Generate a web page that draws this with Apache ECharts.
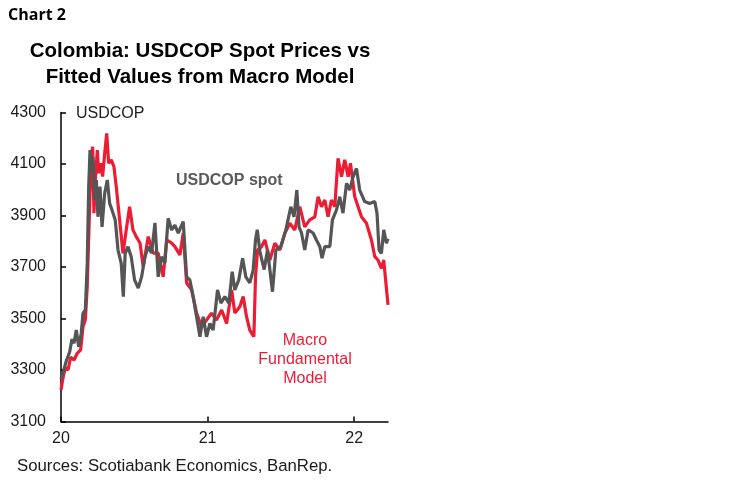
<!DOCTYPE html>
<html>
<head>
<meta charset="utf-8">
<script src="https://cdn.jsdelivr.net/npm/echarts@6/dist/echarts.min.js"></script>
<style>
  body { margin: 0; background: #fff; }
  #chart { width: 750px; height: 483px; }
</style>
</head>
<body>
<div id="chart"></div>
<script>
// x values are years as 20.xx (2020 = 20)
var spotX = [20.000, 20.014, 20.036, 20.059, 20.075, 20.089, 20.104, 20.121, 20.138, 20.150,
  20.166, 20.179, 20.189, 20.198, 20.207, 20.218, 20.230, 20.241, 20.252, 20.266,
  20.280, 20.298, 20.316, 20.332, 20.348, 20.370, 20.389, 20.411, 20.425, 20.438,
  20.457, 20.479, 20.502, 20.527, 20.550, 20.573, 20.595, 20.618, 20.641, 20.663,
  20.686, 20.709, 20.731, 20.755, 20.777, 20.800, 20.834, 20.857, 20.879, 20.902,
  20.925, 20.948, 20.970, 20.993, 21.016, 21.038, 21.068, 21.091, 21.118, 21.145,
  21.168, 21.186, 21.213, 21.239, 21.261, 21.288, 21.311, 21.327, 21.339, 21.357,
  21.386, 21.409, 21.443, 21.466, 21.500, 21.534, 21.568, 21.590, 21.609, 21.624,
  21.641, 21.663, 21.686, 21.720, 21.743, 21.766, 21.781, 21.800, 21.834, 21.852,
  21.879, 21.902, 21.924, 21.948, 21.970, 21.993, 22.016, 22.038, 22.072, 22.106,
  22.141, 22.156, 22.170, 22.186, 22.202, 22.220, 22.231];
var spotY = [3265, 3290, 3335, 3370, 3420, 3404, 3455, 3390, 3443, 3520,
  3533, 3714, 4012, 4154, 4064, 4128, 3960, 4038, 3895, 4012,
  3856, 3986, 4038, 3947, 3921, 3883, 3766, 3714, 3585, 3753,
  3779, 3740, 3650, 3618, 3662, 3740, 3779, 3754, 3871, 3662,
  3740, 3715, 3889, 3844, 3863, 3832, 3876, 3662, 3650, 3585,
  3507, 3429, 3507, 3429, 3481, 3455, 3611, 3560, 3585, 3560,
  3682, 3611, 3650, 3734, 3662, 3638, 3688, 3805, 3845, 3760,
  3690, 3766, 3604, 3766, 3779, 3844, 3934, 3895, 3999, 3856,
  3832, 3766, 3844, 3832, 3805, 3779, 3734, 3779, 3779, 3883,
  3921, 3973, 3909, 4025, 3999, 4051, 4083, 3999, 3954, 3947,
  3954, 3909, 3766, 3753, 3844, 3792, 3810];

var modelX = [20.000, 20.014, 20.029, 20.048, 20.066, 20.089, 20.111, 20.134, 20.150, 20.166,
  20.179, 20.196, 20.207, 20.216, 20.225, 20.234, 20.248, 20.257, 20.271, 20.284,
  20.298, 20.312, 20.325, 20.343, 20.361, 20.377, 20.400, 20.423, 20.445, 20.468,
  20.491, 20.513, 20.539, 20.561, 20.595, 20.629, 20.663, 20.697, 20.721, 20.755,
  20.777, 20.811, 20.834, 20.857, 20.891, 20.925, 20.959, 20.993, 21.027, 21.061,
  21.096, 21.130, 21.164, 21.186, 21.220, 21.243, 21.266, 21.288, 21.316, 21.327,
  21.341, 21.368, 21.391, 21.425, 21.459, 21.493, 21.527, 21.561, 21.595, 21.629,
  21.663, 21.697, 21.732, 21.754, 21.777, 21.800, 21.822, 21.845, 21.868, 21.890,
  21.914, 21.936, 21.959, 21.975, 22.004, 22.027, 22.050, 22.084, 22.118, 22.141,
  22.163, 22.186, 22.202, 22.231];
var modelY = [3222, 3270, 3310, 3300, 3350, 3339, 3365, 3378, 3468, 3494,
  3624, 3947, 4128, 4167, 3909, 4038, 4154, 4064, 4103, 4051,
  4141, 4219, 4103, 4116, 4090, 4012, 3883, 3753, 3844, 3934,
  3844, 3818, 3793, 3701, 3818, 3754, 3754, 3662, 3805, 3793,
  3779, 3747, 3832, 3638, 3611, 3521, 3468, 3494, 3521, 3494,
  3533, 3481, 3611, 3521, 3546, 3585, 3507, 3455, 3429, 3662,
  3766, 3779, 3805, 3727, 3792, 3766, 3831, 3870, 3844, 3934,
  3856, 3883, 3895, 3973, 3934, 3960, 3895, 3960, 3934, 4122,
  4051, 4116, 4051, 4103, 3973, 3934, 3895, 3870, 3805, 3740,
  3727, 3695, 3727, 3553];

var yearTicks = [20, 21, 22];

function pairs(xs, ys) {
  return xs.map(function (x, i) { return [x, ys[i]]; });
}

var myChart = echarts.init(document.getElementById("chart"));
myChart.setOption({
  animation: false,
  title: [
    {
      text: "Chart 2",
      left: 8, top: 7, padding: 0,
      textStyle: { fontFamily: "Open Sans", fontWeight: "bold", fontSize: 16, color: "#000" }
    },
    {
      text: "Colombia: USDCOP Spot Prices vs\nFitted Values from Macro Model",
      left: 200, top: 38, padding: 0, textAlign: "center",
      textStyle: { fontFamily: "Liberation Sans", fontWeight: "bold", fontSize: 20.5, lineHeight: 26, color: "#000" }
    },
    {
      text: "Sources: Scotiabank Economics, BanRep.",
      left: 17, top: 458, padding: 0,
      textStyle: { fontFamily: "Liberation Sans", fontWeight: "normal", fontSize: 16.8, color: "#1a1a1a" }
    }
  ],
  graphic: [
    { type: "text", x: 76, y: 114, style: { text: "USDCOP", font: "16px 'Liberation Sans'", fill: "#222", verticalAlign: "middle" } },
    { type: "text", x: 176, y: 181, style: { text: "USDCOP spot", font: "bold 16px 'Liberation Sans'", fill: "#595959", verticalAlign: "middle" } },
    { type: "text", x: 305, y: 341, style: { text: "Macro", font: "16px 'Liberation Sans'", fill: "#ec1c35", align: "center", verticalAlign: "middle" } },
    { type: "text", x: 305, y: 360, style: { text: "Fundamental", font: "16px 'Liberation Sans'", fill: "#ec1c35", align: "center", verticalAlign: "middle" } },
    { type: "text", x: 305, y: 379, style: { text: "Model", font: "16px 'Liberation Sans'", fill: "#ec1c35", align: "center", verticalAlign: "middle" } }
  ],
  grid: { left: 61, right: 362, top: 112.5, bottom: 61.5, containLabel: false },
  xAxis: {
    type: "value",
    min: 20,
    max: 22.231,
    splitLine: { show: false },
    axisLine: { lineStyle: { color: "#000", width: 1.5 } },
    axisTick: { inside: true, length: 5, customValues: yearTicks, lineStyle: { color: "#000", width: 1.5 } },
    axisLabel: { customValues: yearTicks, margin: 9, fontFamily: "Liberation Sans", fontSize: 16, color: "#1a1a1a" }
  },
  yAxis: {
    type: "value",
    min: 3100,
    max: 4300,
    interval: 200,
    splitLine: { show: false },
    axisLine: { show: true, lineStyle: { color: "#000", width: 1.5 } },
    axisTick: { show: true, inside: true, length: 5, lineStyle: { color: "#000", width: 1.5 } },
    axisLabel: {
      margin: 15, fontFamily: "Liberation Sans", fontSize: 16, color: "#1a1a1a",
      formatter: function (v) { return String(v); }
    }
  },
  series: [
    {
      name: "Macro Fundamental Model",
      type: "line",
      data: pairs(modelX, modelY),
      showSymbol: false,
      lineStyle: { color: "#ec1c35", width: 3.2 }
    },
    {
      name: "USDCOP spot",
      type: "line",
      data: pairs(spotX, spotY),
      showSymbol: false,
      lineStyle: { color: "#555555", width: 3.2 }
    }
  ]
});
</script>
</body>
</html>
